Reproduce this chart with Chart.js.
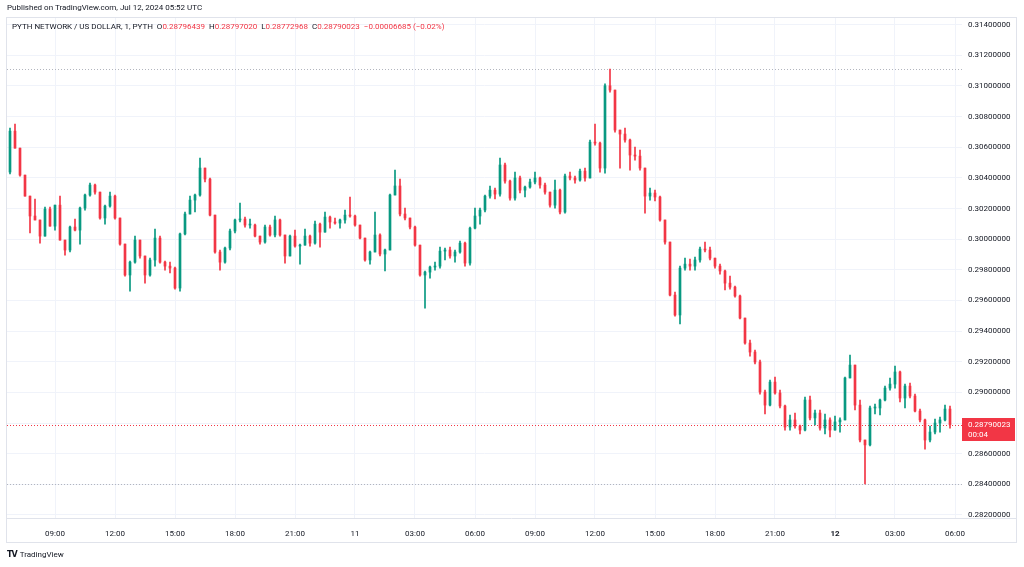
<!DOCTYPE html>
<html>
<head>
<meta charset="utf-8">
<script src="https://cdn.jsdelivr.net/npm/chart.js@4.4.1/dist/chart.umd.min.js"></script>
<style>
  html, body { margin: 0; padding: 0; background: #fff; }
  body { width: 1024px; height: 567px; position: relative; overflow: hidden; font-family: Roboto, "Open Sans", sans-serif; color: #131722; }
  #chart { position: absolute; left: 0; top: 0; }
  .published { position: absolute; left: 7px; top: 3px; font-size: 8px; line-height: 10px; }
  .legend { position: absolute; left: 12px; top: 22px; font-size: 8px; line-height: 10px; white-space: pre; }
  .legend .v { color: #f23645; }
  .brand { position: absolute; left: 7px; top: 550px; font-size: 8px; line-height: 10px; }
  .brand b { font-family: "DejaVu Sans", sans-serif; font-weight: 900; font-size: 8px; letter-spacing: -1px; margin-right: 3px; }
</style>
</head>
<body>
<canvas id="chart" width="1024" height="567"></canvas>
<div class="published" id="published"></div>
<div class="legend" id="legend"></div>
<div class="brand"><b>TV</b>TradingView</div>
<script>
document.addEventListener('DOMContentLoaded', () => {
    // 15-minute candles, Jul 10 06:45 -> Jul 12 05:45 (UTC)
    const firstOpen = 0.30438;
    const closes = [
        0.30705, 0.30594, 0.30418, 0.30281, 0.30151, 0.30125, 0.30020, 0.30196, 0.30085, 0.30222,
        0.29994, 0.29929, 0.30079, 0.30059, 0.30203, 0.30288, 0.30353, 0.30307, 0.30138, 0.30216,
        0.30281, 0.30138, 0.29968, 0.29766, 0.29850, 0.29994, 0.29890, 0.29766, 0.29864, 0.30007,
        0.29850, 0.29824, 0.29811, 0.29681, 0.30034, 0.30164, 0.30255, 0.30288, 0.30464, 0.30392,
        0.30157, 0.29916, 0.29850, 0.29942, 0.30053, 0.30125, 0.30131, 0.30092, 0.30092, 0.30020,
        0.29981, 0.30079, 0.30027, 0.30125, 0.30027, 0.29890, 0.30020, 0.29955, 0.29961, 0.30020,
        0.29974, 0.30098, 0.30046, 0.30144, 0.30112, 0.30105, 0.30125, 0.30157, 0.30151, 0.30092,
        0.30007, 0.29864, 0.29916, 0.30027, 0.29903, 0.29929, 0.30288, 0.30347, 0.30164, 0.30138,
        0.30079, 0.29961, 0.29766, 0.29785, 0.29818, 0.29824, 0.29922, 0.29929, 0.29890, 0.29916,
        0.29974, 0.29844, 0.30072, 0.30151, 0.30190, 0.30281, 0.30320, 0.30294, 0.30484, 0.30379,
        0.30268, 0.30399, 0.30320, 0.30340, 0.30373, 0.30399, 0.30353, 0.30307, 0.30222, 0.30320,
        0.30177, 0.30412, 0.30399, 0.30386, 0.30444, 0.30399, 0.30633, 0.30627, 0.30464, 0.31001,
        0.30973, 0.30712, 0.30686, 0.30647, 0.30549, 0.30542, 0.30464, 0.30281, 0.30301, 0.30275,
        0.30125, 0.29981, 0.29635, 0.29505, 0.29811, 0.29837, 0.29824, 0.29864, 0.29935, 0.29929,
        0.29876, 0.29824, 0.29792, 0.29713, 0.29687, 0.29629, 0.29485, 0.29322, 0.29263, 0.29198,
        0.29002, 0.28917, 0.29067, 0.28996, 0.28911, 0.28774, 0.28820, 0.28780, 0.28754, 0.28950,
        0.28833, 0.28865, 0.28767, 0.28820, 0.28754, 0.28807, 0.28820, 0.29094, 0.29178, 0.28917,
        0.28689, 0.28657, 0.28898, 0.28898, 0.28950, 0.29028, 0.29054, 0.29133, 0.28963, 0.29041,
        0.28976, 0.28878, 0.28820, 0.28689, 0.28741, 0.28800, 0.28820, 0.28891, 0.28790
    ];
    const highs = [
        0.30725, 0.30751, 0.30594, 0.30418, 0.30281, 0.30262, 0.30125, 0.30209, 0.30209, 0.30222,
        0.30281, 0.29994, 0.30085, 0.30131, 0.30209, 0.30294, 0.30366, 0.30360, 0.30307, 0.30222,
        0.30307, 0.30288, 0.30138, 0.29968, 0.29857, 0.30020, 0.29994, 0.29890, 0.29876, 0.30066,
        0.30020, 0.29857, 0.29850, 0.29818, 0.30040, 0.30177, 0.30281, 0.30294, 0.30529, 0.30464,
        0.30399, 0.30157, 0.29929, 0.29948, 0.30066, 0.30131, 0.30235, 0.30144, 0.30131, 0.30098,
        0.30020, 0.30092, 0.30092, 0.30151, 0.30131, 0.30027, 0.30027, 0.30059, 0.29968, 0.30066,
        0.30027, 0.30118, 0.30105, 0.30177, 0.30151, 0.30138, 0.30131, 0.30190, 0.30275, 0.30157,
        0.30092, 0.30007, 0.29922, 0.30177, 0.30034, 0.29935, 0.30294, 0.30451, 0.30392, 0.30203,
        0.30138, 0.30085, 0.29961, 0.29792, 0.29824, 0.29850, 0.29948, 0.29942, 0.29948, 0.29929,
        0.29987, 0.29981, 0.30079, 0.30203, 0.30203, 0.30288, 0.30347, 0.30333, 0.30529, 0.30497,
        0.30386, 0.30438, 0.30411, 0.30347, 0.30392, 0.30438, 0.30405, 0.30366, 0.30307, 0.30386,
        0.30327, 0.30425, 0.30438, 0.30412, 0.30457, 0.30464, 0.30647, 0.30751, 0.30633, 0.31014,
        0.31110, 0.30973, 0.30712, 0.30725, 0.30653, 0.30601, 0.30581, 0.30464, 0.30333, 0.30320,
        0.30281, 0.30125, 0.29981, 0.29655, 0.29824, 0.29876, 0.29870, 0.29883, 0.29948, 0.29981,
        0.29948, 0.29876, 0.29837, 0.29798, 0.29759, 0.29694, 0.29635, 0.29485, 0.29342, 0.29276,
        0.29211, 0.29015, 0.29081, 0.29100, 0.29015, 0.28917, 0.28852, 0.28865, 0.28787, 0.28970,
        0.28976, 0.28885, 0.28885, 0.28859, 0.28833, 0.28846, 0.28833, 0.29100, 0.29244, 0.29178,
        0.28950, 0.28689, 0.28911, 0.28924, 0.28957, 0.29041, 0.29094, 0.29172, 0.29139, 0.29054,
        0.29061, 0.28989, 0.28891, 0.28826, 0.28780, 0.28826, 0.28839, 0.28917, 0.28911
    ];
    const lows = [
        0.30425, 0.30594, 0.30411, 0.30281, 0.30040, 0.30125, 0.29974, 0.30020, 0.30085, 0.30059,
        0.29994, 0.29896, 0.29916, 0.30053, 0.29968, 0.30190, 0.30281, 0.30294, 0.30131, 0.30098,
        0.30209, 0.30131, 0.29961, 0.29759, 0.29661, 0.29844, 0.29876, 0.29713, 0.29759, 0.29824,
        0.29844, 0.29798, 0.29779, 0.29674, 0.29661, 0.30027, 0.30164, 0.30177, 0.30281, 0.30373,
        0.30151, 0.29909, 0.29798, 0.29844, 0.29929, 0.30040, 0.30112, 0.30079, 0.30072, 0.30014,
        0.29968, 0.29974, 0.30020, 0.30014, 0.30020, 0.29844, 0.29890, 0.29948, 0.29837, 0.29961,
        0.29955, 0.29968, 0.29948, 0.30046, 0.30072, 0.30098, 0.30072, 0.30105, 0.30144, 0.30085,
        0.30001, 0.29857, 0.29837, 0.29916, 0.29890, 0.29792, 0.29929, 0.30288, 0.30151, 0.30125,
        0.30066, 0.29955, 0.29759, 0.29550, 0.29746, 0.29798, 0.29811, 0.29864, 0.29876, 0.29850,
        0.29909, 0.29824, 0.29831, 0.30066, 0.30098, 0.30177, 0.30268, 0.30262, 0.30281, 0.30366,
        0.30255, 0.30255, 0.30301, 0.30275, 0.30333, 0.30360, 0.30333, 0.30294, 0.30209, 0.30203,
        0.30164, 0.30170, 0.30386, 0.30366, 0.30379, 0.30379, 0.30399, 0.30614, 0.30438, 0.30431,
        0.30960, 0.30699, 0.30464, 0.30633, 0.30451, 0.30516, 0.30451, 0.30170, 0.30255, 0.30249,
        0.30118, 0.29968, 0.29629, 0.29498, 0.29446, 0.29798, 0.29798, 0.29798, 0.29850, 0.29916,
        0.29864, 0.29811, 0.29772, 0.29668, 0.29674, 0.29622, 0.29479, 0.29315, 0.29237, 0.29185,
        0.28989, 0.28859, 0.28911, 0.28989, 0.28898, 0.28754, 0.28754, 0.28767, 0.28728, 0.28748,
        0.28820, 0.28787, 0.28754, 0.28728, 0.28709, 0.28754, 0.28741, 0.28820, 0.29094, 0.28885,
        0.28676, 0.28402, 0.28650, 0.28859, 0.28852, 0.28944, 0.29015, 0.29028, 0.28937, 0.28898,
        0.28963, 0.28872, 0.28807, 0.28630, 0.28676, 0.28728, 0.28741, 0.28813, 0.28767
    ];
    const opens = [firstOpen].concat(closes.slice(0, -1));

    // time axis, in hours since Jul 10 00:00 UTC
    const startHour = 6.75;
    const stepHour = 0.25;
    const candleHours = closes.map((_, i) => startHour + i * stepHour);
    const timeTicks = [9, 12, 15, 18, 21, 24, 27, 30, 33, 36, 39, 42, 45, 48, 51, 54];
    const timeLabels = ['09:00', '12:00', '15:00', '18:00', '21:00', '11', '03:00', '06:00',
        '09:00', '12:00', '15:00', '18:00', '21:00', '12', '03:00', '06:00'];
    const dayLabels = ['12'];

    const priceTicks = [0.282, 0.284, 0.286, 0.288, 0.290, 0.292, 0.294, 0.296, 0.298,
        0.300, 0.302, 0.304, 0.306, 0.308, 0.310, 0.312, 0.314];

    // header texts
    const publishedText = 'Published on TradingView.com, Jul 12, 2024 05:52 UTC';
    const symbolText = 'PYTH NETWORK / US DOLLAR, 1, PYTH';
    const lastBar = ['0.28796439', '0.28797020', '0.28772968', '0.28790023'];
    const changeText = '\u22120.00006685 (\u22120.02%)';
    const lastPriceText = '0.28790023';
    const countdownText = '00:04';

    const upColor = '#089981';
    const downColor = '#f23645';
    const gridColor = '#f0f3fa';
    const font = 'Roboto, "Open Sans", sans-serif';

    document.getElementById('published').textContent = publishedText;
    document.getElementById('legend').innerHTML =
        symbolText + '  O<span class="v">' + lastBar[0] + '</span>  H<span class="v">' + lastBar[1] +
        '</span>  L<span class="v">' + lastBar[2] + '</span>  C<span class="v">' + lastBar[3] +
        '</span>  <span class="v">' + changeText + '</span>';

    const colors = closes.map((c, i) => (c >= opens[i] ? upColor : downColor));
    const rangeHigh = Math.max(...highs);
    const rangeLow = Math.min(...lows);
    const lastPrice = closes[closes.length - 1];

    // Extra drawing: range lines, last price line + label, frame
    const overlay = {
        id: 'overlay',
        beforeDatasetsDraw(chart) {
            const { ctx, chartArea, scales } = chart;
            ctx.save();
            ctx.lineWidth = 1;
            ctx.setLineDash([1, 2]);
            [[rangeHigh, '#b2b5be'], [rangeLow, '#b2b5be'], [lastPrice, downColor]].forEach(([v, c]) => {
                const y = Math.round(scales.y.getPixelForValue(v)) + 0.5;
                ctx.strokeStyle = c;
                ctx.beginPath();
                ctx.moveTo(chartArea.left, y);
                ctx.lineTo(chartArea.right, y);
                ctx.stroke();
            });
            ctx.restore();
        },
        afterDraw(chart) {
            const { ctx, chartArea, scales } = chart;
            ctx.save();
            // frame
            ctx.strokeStyle = '#e0e3eb';
            ctx.lineWidth = 1;
            ctx.strokeRect(6.5, 17.5, 1010, 525);
            ctx.beginPath();
            ctx.moveTo(6.5, chartArea.bottom + 0.5);
            ctx.lineTo(1016.5, chartArea.bottom + 0.5);
            ctx.stroke();
            // last price label
            const py = Math.round(scales.y.getPixelForValue(lastPrice));
            ctx.fillStyle = downColor;
            ctx.fillRect(chartArea.right, py - 7, 53, 23);
            ctx.fillStyle = '#ffffff';
            ctx.font = '8px ' + font;
            ctx.textBaseline = 'middle';
            ctx.textAlign = 'left';
            ctx.fillText(lastPriceText, chartArea.right + 6, py);
            ctx.fillText(countdownText, chartArea.right + 6, py + 10);
            ctx.restore();
        }
    };

    const ctx = document.getElementById('chart').getContext('2d');
    new Chart(ctx, {
        type: 'bar',
        data: {
            datasets: [
                {
                    label: 'wick',
                    data: candleHours.map((t, i) => ({ x: t, y: [lows[i], highs[i]] })),
                    backgroundColor: colors,
                    barThickness: 1,
                    grouped: false,
                    order: 2
                },
                {
                    label: 'body',
                    data: candleHours.map((t, i) => ({ x: t, y: [opens[i], closes[i]] })),
                    backgroundColor: colors,
                    barThickness: 2,
                    minBarLength: 1,
                    grouped: false,
                    order: 1
                }
            ]
        },
        options: {
            responsive: false,
            animation: false,
            layout: { padding: { left: 7, top: 17, right: 7, bottom: 24 } },
            plugins: { legend: { display: false }, tooltip: { enabled: false } },
            scales: {
                x: {
                    type: 'linear',
                    min: 6.6,
                    max: 54.35,
                    offset: false,
                    border: { display: false },
                    grid: { color: gridColor, drawTicks: false, offset: false },
                    afterBuildTicks: (axis) => { axis.ticks = timeTicks.map(v => ({ value: v })); },
                    afterFit: (axis) => { axis.height = 25; },
                    ticks: {
                        autoSkip: false,
                        maxRotation: 0,
                        padding: 11,
                        color: '#131722',
                        font: (c) => ({
                            size: 8,
                            family: font,
                            weight: dayLabels.includes(timeLabels[timeTicks.indexOf(c.tick && c.tick.value)]) ? 'bold' : 'normal'
                        }),
                        callback: (value) => timeLabels[timeTicks.indexOf(value)]
                    }
                },
                y: {
                    position: 'right',
                    min: 0.2818,
                    max: 0.3145,
                    border: { display: false },
                    grid: { color: gridColor, drawTicks: false },
                    afterBuildTicks: (axis) => { axis.ticks = priceTicks.map(v => ({ value: v })); },
                    afterFit: (axis) => { axis.width = 55; },
                    ticks: {
                        padding: 6,
                        color: '#131722',
                        font: { size: 8, family: font },
                        callback: (value) => value.toFixed(8)
                    }
                }
            }
        },
        plugins: [overlay]
    });
});
</script>
</body>
</html>
